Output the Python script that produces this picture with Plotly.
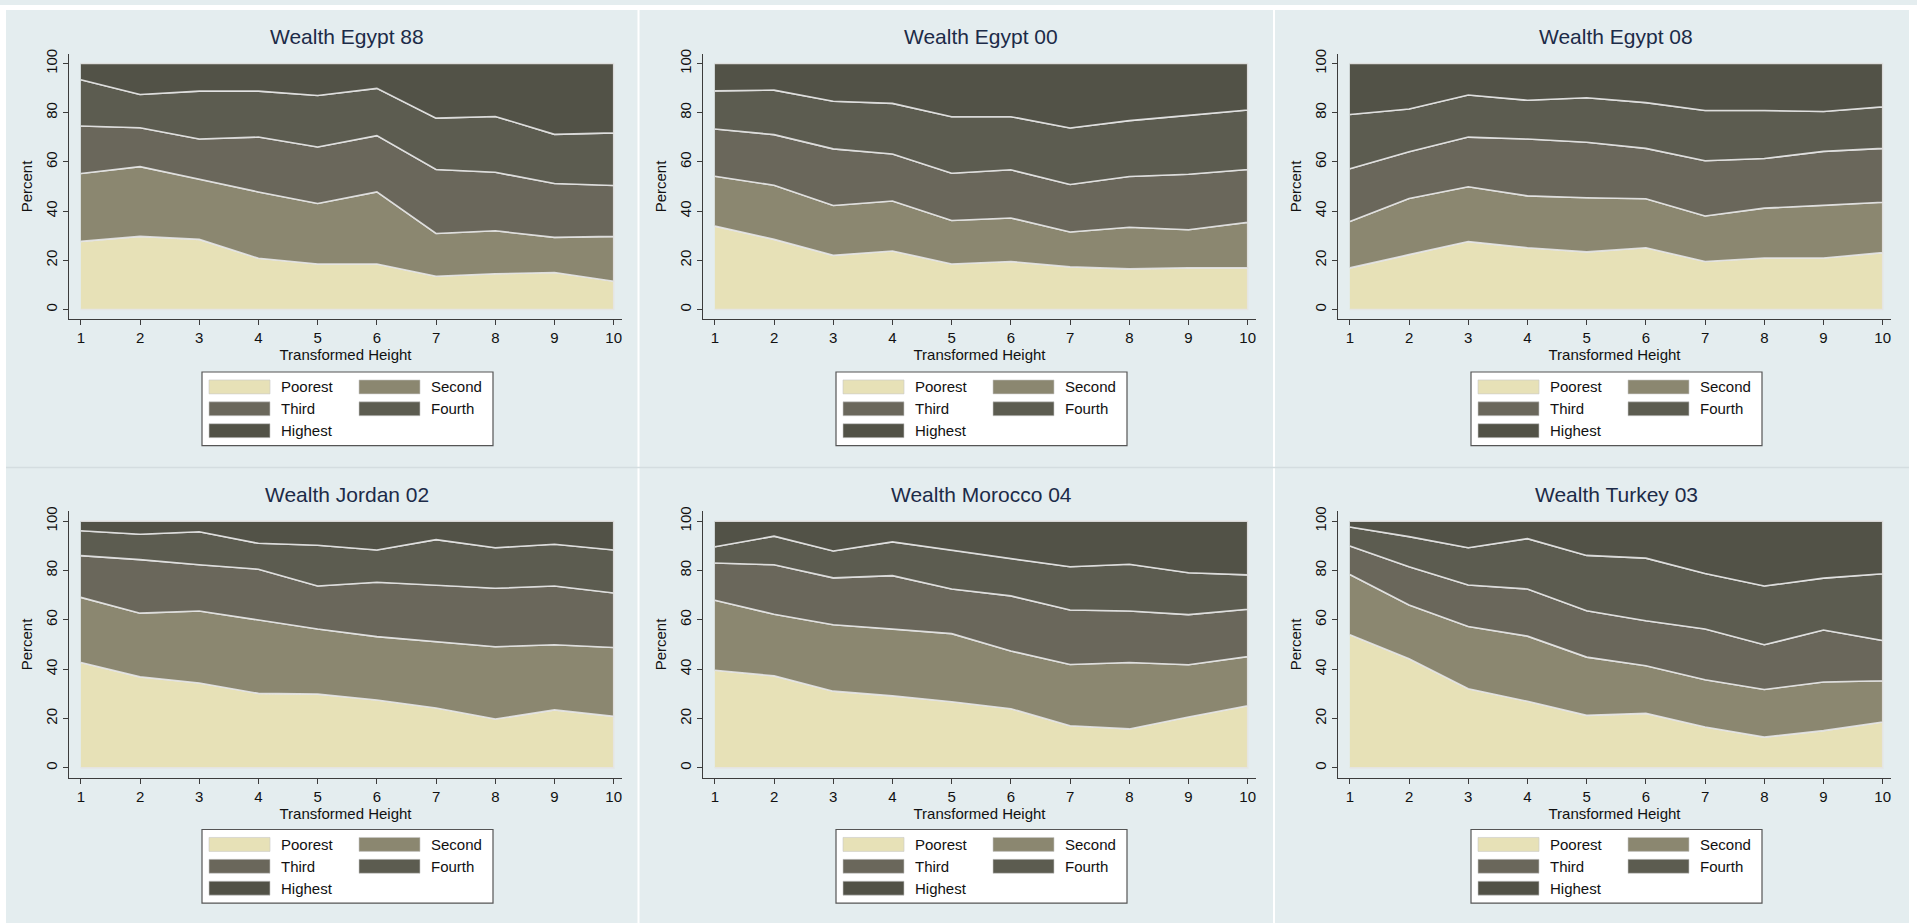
import plotly.graph_objects as go

W, H = 1917, 923

# ---------------- data ----------------
heights = [1, 2, 3, 4, 5, 6, 7, 8, 9, 10]
height_labels = ["1", "2", "3", "4", "5", "6", "7", "8", "9", "10"]
y_ticks = [0, 20, 40, 60, 80, 100]
quintiles = ["Poorest", "Second", "Third", "Fourth", "Highest"]
titles = ["Wealth Egypt 88", "Wealth Egypt 00", "Wealth Egypt 08",
          "Wealth Jordan 02", "Wealth Morocco 04", "Wealth Turkey 03"]

# shares (percent) of each wealth quintile, order: Poorest, Second, Third, Fourth, Highest
egypt88 = [
    [27.7, 29.7, 28.5, 20.8, 18.5, 18.5, 13.5, 14.5, 15.0, 11.5],
    [27.6, 28.4, 24.6, 27.0, 24.6, 29.3, 17.4, 17.5, 14.3, 18.2],
    [19.3, 15.8, 16.2, 22.3, 23.0, 22.9, 26.0, 23.8, 21.9, 20.7],
    [18.8, 13.5, 19.5, 18.7, 20.9, 19.2, 20.9, 22.7, 20.0, 21.4],
    [6.6, 12.6, 11.2, 11.2, 13.0, 10.1, 22.2, 21.5, 28.8, 28.2],
]
egypt00 = [
    [33.9, 28.5, 22.0, 23.8, 18.5, 19.5, 17.3, 16.5, 16.9, 16.9],
    [20.3, 22.0, 20.3, 20.3, 17.7, 17.7, 14.2, 16.9, 15.5, 18.5],
    [19.2, 20.6, 23.0, 19.1, 19.2, 19.6, 19.3, 20.7, 22.6, 21.5],
    [15.5, 18.1, 19.4, 20.6, 23.0, 21.6, 23.0, 22.7, 23.9, 24.2],
    [11.1, 10.8, 15.3, 16.2, 21.6, 21.6, 26.2, 23.2, 21.1, 18.9],
]
egypt08 = [
    [16.9, 22.3, 27.6, 25.1, 23.4, 25.1, 19.5, 20.9, 20.9, 23.1],
    [18.9, 22.8, 22.3, 21.1, 22.0, 19.9, 18.5, 20.3, 21.4, 20.5],
    [21.4, 19.0, 20.2, 23.1, 22.6, 20.5, 22.5, 20.2, 22.0, 21.9],
    [22.1, 17.4, 17.1, 15.8, 18.1, 18.6, 20.4, 19.5, 16.2, 16.9],
    [20.7, 18.5, 12.8, 14.9, 13.9, 15.9, 19.1, 19.1, 19.5, 17.6],
]
jordan02 = [
    [42.7, 36.9, 34.4, 30.2, 29.9, 27.5, 24.3, 19.8, 23.5, 20.9],
    [26.4, 25.8, 29.2, 29.8, 26.4, 25.7, 26.9, 29.3, 26.4, 27.9],
    [16.9, 21.7, 18.7, 20.5, 17.4, 22.0, 22.9, 23.7, 23.8, 22.1],
    [10.1, 10.3, 13.4, 10.5, 16.5, 13.1, 18.4, 16.4, 16.9, 17.4],
    [3.9, 5.3, 4.3, 9.0, 9.8, 11.7, 7.5, 10.8, 9.4, 11.7],
]
morocco04 = [
    [39.6, 37.3, 31.1, 29.2, 26.8, 24.0, 17.1, 15.8, 20.6, 25.2],
    [28.3, 25.0, 26.9, 27.1, 27.6, 23.4, 24.8, 26.9, 21.2, 19.9],
    [15.1, 20.0, 19.0, 21.6, 18.1, 22.3, 22.1, 20.9, 20.3, 19.2],
    [6.6, 11.6, 10.9, 13.7, 15.8, 15.1, 17.5, 18.9, 17.0, 13.9],
    [10.4, 6.1, 12.1, 8.4, 11.7, 15.2, 18.5, 17.5, 20.9, 21.8],
]
turkey03 = [
    [54.0, 44.2, 32.1, 27.0, 21.3, 22.1, 16.6, 12.5, 15.1, 18.6],
    [24.4, 21.8, 25.2, 26.4, 23.6, 19.3, 19.1, 19.3, 19.7, 16.7],
    [11.5, 15.5, 16.8, 19.1, 18.8, 18.2, 20.6, 18.1, 21.1, 16.3],
    [7.7, 12.2, 15.1, 20.4, 22.4, 25.4, 22.5, 23.8, 21.0, 27.1],
    [2.4, 6.3, 10.8, 7.1, 13.9, 15.0, 21.2, 26.3, 23.1, 21.3],
]
panels = [egypt88, egypt00, egypt08, jordan02, morocco04, turkey03]

# ---------------- style ----------------
colors = ["#E7E1B7", "#8B8770", "#6A675B", "#5C5C50", "#525247"]
bg = "#E4EDEF"
axis_col = "#3C3C3C"
title_col = "#1C2B48"
edge_col = "rgba(228,228,228,0.9)"
FONT = "Liberation Sans, Arial, Helvetica, sans-serif"

col_x0 = [69, 703, 1338]
col_x1 = [622, 1256, 1891]
row_top = [49, 509]
row_bot = [316, 777]


def px(x):
    return x / W


def py(y):
    return 1 - y / H


fig = go.Figure()
layout = dict(
    width=W, height=H,
    margin=dict(l=0, r=0, t=0, b=0),
    paper_bgcolor=bg, plot_bgcolor=bg,
    showlegend=False,
    font=dict(family=FONT, size=15, color="#111111"),
)
shapes = []
annotations = []

for i, shares in enumerate(panels):
    r, c = divmod(i, 3)
    n = "" if i == 0 else str(i + 1)
    xa, ya = "x" + n, "y" + n

    lower = [0.0] * len(heights)
    for k, s in enumerate(shares):
        upper = [lo + v for lo, v in zip(lower, s)]
        fig.add_trace(go.Scatter(
            x=heights + heights[::-1],
            y=upper + lower[::-1],
            fill="toself", fillcolor=colors[k],
            line=dict(color=edge_col, width=1.6),
            mode="lines", name=quintiles[k],
            xaxis=xa, yaxis=ya, hoverinfo="skip",
        ))
        lower = upper

    layout["xaxis" + n] = dict(
        domain=[px(col_x0[c]), px(col_x1[c])],
        anchor=ya, range=[0.8, 10.14],
        tickvals=heights, ticktext=height_labels,
        ticks="outside", ticklen=5, tickwidth=1, tickcolor=axis_col,
        showline=True, linecolor=axis_col, linewidth=1.2,
        showgrid=False, zeroline=False,
        tickfont=dict(size=15, color="#111111"),
        title=dict(text="Transformed Height", font=dict(size=15, color="#111111"), standoff=2),
        fixedrange=True,
    )
    layout["yaxis" + n] = dict(
        domain=[py(row_bot[r]), py(row_top[r])],
        anchor=xa, range=[-4, 104],
        tickvals=y_ticks,
        ticks="outside", ticklen=5, tickwidth=1, tickcolor=axis_col,
        tickangle=-90,
        showline=True, linecolor=axis_col, linewidth=1.2,
        showgrid=False, zeroline=False,
        tickfont=dict(size=15, color="#111111"),
        title=dict(text="Percent", font=dict(size=15, color="#111111"), standoff=6),
        fixedrange=True,
    )

    # panel title
    annotations.append(dict(
        text=titles[i], xref=xa, x=(heights[0] + heights[-1]) / 2,
        yref="paper", y=py(row_top[r] - 17), yanchor="middle", xanchor="center",
        showarrow=False, font=dict(size=21, color=title_col, family=FONT),
    ))

    # legend box (drawn below each panel)
    cx = (col_x0[c] + 12 + col_x1[c] - 8) / 2
    bx0, bx1 = cx - 145.5, cx + 145.5
    by0 = row_top[r] + 320
    by1 = by0 + 74
    shapes.append(dict(type="rect", xref="paper", yref="paper",
                       x0=px(bx0), x1=px(bx1), y0=py(by1), y1=py(by0),
                       fillcolor="white", line=dict(color="#555555", width=1.2)))
    for k, q in enumerate(quintiles):
        rr, cc = divmod(k, 2)
        sx0 = bx0 + 7 + cc * 150
        sy0 = by0 + 8 + rr * 22
        shapes.append(dict(type="rect", xref="paper", yref="paper",
                           x0=px(sx0), x1=px(sx0 + 61), y0=py(sy0 + 14), y1=py(sy0),
                           fillcolor=colors[k], line=dict(color="rgba(200,200,200,0.6)", width=1)))
        annotations.append(dict(
            text=q, xref="paper", yref="paper", x=px(sx0 + 70), y=py(sy0 + 7),
            xanchor="left", yanchor="middle", showarrow=False,
            font=dict(size=15, color="#111111", family=FONT),
        ))

# outer white border and panel separators
shapes += [
    dict(type="rect", xref="paper", yref="paper", x0=0, x1=px(6), y0=0, y1=1,
         fillcolor="white", line=dict(width=0), layer="below"),
    dict(type="rect", xref="paper", yref="paper", x0=0, x1=1, y0=py(5), y1=1,
         fillcolor="white", line=dict(width=0), layer="below"),
    dict(type="rect", xref="paper", yref="paper", x0=px(1909), x1=1, y0=0, y1=1,
         fillcolor="white", line=dict(width=0), layer="below"),
    dict(type="line", xref="paper", yref="paper", x0=px(638.5), x1=px(638.5), y0=0, y1=py(5),
         line=dict(color="white", width=2), layer="below"),
    dict(type="line", xref="paper", yref="paper", x0=px(1274), x1=px(1274), y0=0, y1=py(5),
         line=dict(color="white", width=2), layer="below"),
    dict(type="line", xref="paper", yref="paper", x0=px(6), x1=px(1909), y0=py(465), y1=py(465),
         line=dict(color="#D4DDE0", width=1.5), layer="below"),
]

layout["shapes"] = shapes
layout["annotations"] = annotations
fig.update_layout(**layout)

fig.write_html(
    "out.html",
    config={"displayModeBar": False},
    post_script="document.body.style.margin='0';document.body.style.overflow='hidden';",
)
